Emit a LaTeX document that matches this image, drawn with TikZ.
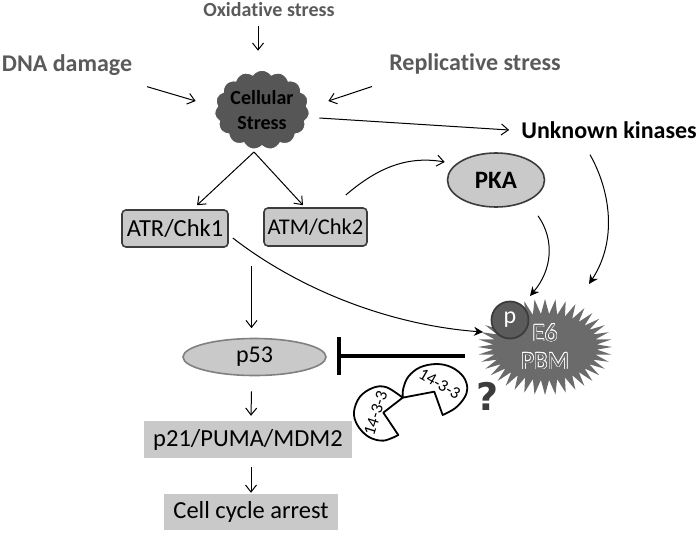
\documentclass[tikz,border=0pt]{standalone}
\usepackage{fontspec}
\setmainfont[Ligatures=NoCommon,Contextuals=NoAlternate]{Carlito}
\newfontfamily\qfont{DejaVu Sans}
\usepackage{contour}
\contourlength{0.55pt}
\usetikzlibrary{shapes.geometric,shapes.symbols,arrows.meta,calc}
\definecolor{lab}{HTML}{5A5A5A}
\definecolor{boxg}{HTML}{C9C9C9}
\definecolor{darkb}{HTML}{3C3C3C}
\definecolor{burst}{HTML}{6B6B6B}
\tikzset{
 stresslab/.style={font=\fontsize{24}{26}\selectfont\bfseries,text=lab,inner sep=0pt},
 chk/.style={draw=darkb,line width=1.6pt,fill=boxg,rounded corners=4pt,font=\fontsize{24.5}{26}\selectfont,inner sep=0pt},
 grayrect/.style={fill=boxg,font=\fontsize{24.5}{26}\selectfont,inner sep=0pt},
 arr/.style={-{Straight Barb[length=7pt,width=11pt,line width=1pt]},line width=1pt},
 sarr/.style={-{Stealth[length=9pt,width=9pt]},line width=1pt},
 pac/.style={draw=black,line width=1.8pt,fill=white,line join=round},
 pactext/.style={font=\fontsize{17}{20}\selectfont,inner sep=0pt}
}
\begin{document}
\begin{tikzpicture}[x=1pt,y=-1pt]
\useasboundingbox (0,0) rectangle (700,533);
% labels
\node[stresslab,font=\fontsize{20}{24}\selectfont\bfseries] (ox) at (269,10) {Oxidative stress};
\node[stresslab] (dna) at (67,65) {DNA damage};
\node[stresslab] (rep) at (475,64) {Replicative stress};
\node[font=\fontsize{24}{26}\selectfont\bfseries,inner sep=0pt] (unk) at (609,130) {Unknown kinases};
% cloud
\node[cloud,cloud puffs=15,cloud puff arc=110,aspect=1.25,draw=white,line width=1pt,fill=burst!80!black,
      minimum width=92pt,minimum height=74pt,inner sep=0pt,align=center,
      font=\fontsize{20}{25}\selectfont\bfseries] (cloud) at (262,110) {Cellular\\Stress};
% boxes
\node[chk,minimum width=106pt,minimum height=37pt] (atr) at (175,228.5) {ATR/Chk1};
\node[chk,minimum width=103pt,minimum height=38pt,font=\fontsize{22.5}{26}\selectfont] (atm) at (315.5,227) {ATM/Chk2};
\node[ellipse,draw=darkb,line width=1.6pt,fill=boxg,minimum width=97pt,minimum height=54pt,inner sep=0pt,
      font=\fontsize{25}{26}\selectfont\bfseries] (pka) at (496,180) {PKA};
\node[ellipse,draw=gray,line width=1.6pt,fill=boxg,minimum width=143pt,minimum height=37pt,inner sep=0pt,
      font=\fontsize{24}{26}\selectfont] (p53) at (254.5,357) {p53};
\node[grayrect,minimum width=208pt,minimum height=37pt] (p21) at (248,439.5) {p21/PUMA/MDM2};
\node[grayrect,minimum width=174pt,minimum height=36pt] (arrest) at (251,512) {Cell cycle arrest};
% E6
\node[starburst,starburst points=40,starburst point height=15pt,random starburst=0,fill=burst,draw=none,
      minimum width=134pt,minimum height=96pt,inner sep=0pt,align=center,
      font=\fontsize{25}{28}\selectfont] (e6) at (545,347) {\contour{white}{\textcolor{burst}{E6}}\\\contour{white}{\textcolor{burst}{PBM}}};
\node[circle,draw=darkb,line width=1.8pt,fill=burst!85!black,text=white,minimum size=37pt,inner sep=0pt,
      font=\fontsize{24}{26}\selectfont] (p) at (510,320) {p};
% 14-3-3 (outlines given in 3x crop units)
\begin{scope}[shift={(340,280)},x=0.3333pt,y=-0.3333pt]
\draw[pac] (130,398) -- plot[smooth,tension=0.6] coordinates {(175,465) (130,482) (85,470) (52,435) (42,395) (60,350) (100,323) (140,322) (188,353)} -- cycle;
\draw[pac] (283,335) -- plot[smooth,tension=0.6] coordinates {(308,405) (345,385) (372,355) (382,325) (370,290) (335,262) (290,252) (240,262) (205,290) (190,325) (188,353)} -- cycle;
\end{scope}
\node[pactext,rotate=72] (pa) at (375.7,413.3) {14-3-3};
\node[pactext,rotate=-30] (pb) at (439.7,384) {14-3-3};
\node[font=\qfont\fontsize{38}{40}\selectfont\bfseries,text=darkb,inner sep=0pt] (q) at (487.7,396.7) {?};
% connectors
\coordinate (split) at (254,152);
\draw[arr] ([shift={(-11,9)}]ox.south) -- ([shift={(-4,-19)}]cloud.north);
\draw[arr] ([shift={(80,11)}]dna.south) -- ([shift={(-19,-9)}]cloud.west);
\draw[arr] ([shift={(-103,12)}]rep.south) -- ([shift={(19,-9)}]cloud.east);
\draw[arr] ([shift={(10,8)}]cloud.east) -- ([xshift=-12pt]unk.west);
\draw[arr] (split) -- ([shift={(22,-4)}]atr.north);
\draw[arr] (split) -- ([shift={(-12.5,-2)}]atm.north);
\draw[arr] ([shift={(-22,-32)}]atm.east) .. controls (375,170) and (405,155) .. ([shift={(-2,-18)}]pka.west);
\draw[sarr] ([shift={(42,8)}]pka.south) .. controls (555,240) and (552,270) .. ([shift={(-15,-51)}]e6.center);
\draw[sarr] ([shift={(-19,16)}]unk.south) .. controls (610,190) and (618,240) .. ([shift={(44,-63)}]e6.center);
\draw[sarr] ([shift={(4,9.5)}]atr.east) .. controls (300,290) and (390,325) .. ([shift={(-62,-15)}]e6.center);
\draw[arr] ([shift={(76.5,18)}]atr.south) -- ([shift={(-3,-9.5)}]p53.north);
\draw[line width=3.2pt] ([shift={(-80,9)}]e6.center) -- ++(-126,0) coordinate (tee);
\draw[line width=3.2pt] ([shift={(0,-19)}]tee) -- ([shift={(0,19)}]tee);
\draw[arr] ([shift={(-3,15)}]p53.south) -- ([shift={(3,-5)}]p21.north);
\draw[arr] ([shift={(3,9)}]p21.south) -- ([shift={(0,-1)}]arrest.north);
\end{tikzpicture}
\end{document}
